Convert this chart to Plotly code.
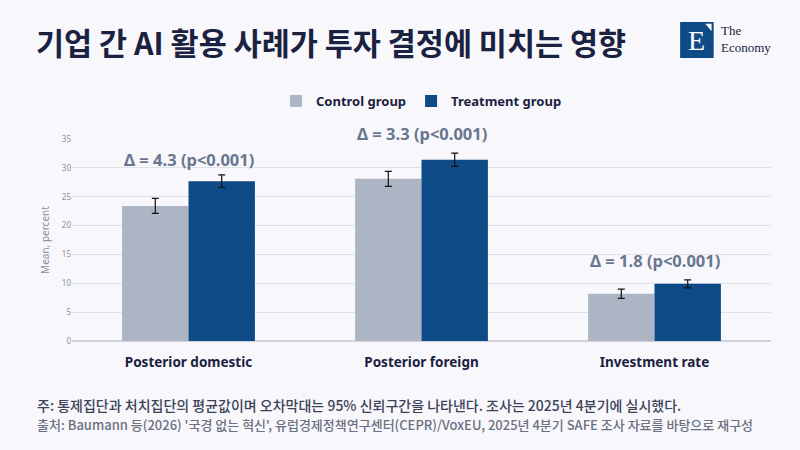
import plotly.graph_objects as go

# Data
categories = ["Posterior domestic", "Posterior foreign", "Investment rate"]
control = [23.4, 28.1, 8.2]
control_err = [1.3, 1.3, 0.8]
treatment = [27.7, 31.4, 9.9]
treatment_err = [1.1, 1.15, 0.7]
delta_labels = ["Δ = 4.3 (p<0.001)", "Δ = 3.3 (p<0.001)", "Δ = 1.8 (p<0.001)"]
delta_y = [31.4, 36.0, 14.0]   # label height in axis units
Y_MAX = 35

BG = "#f8f8fc"
NAVY = "#1b2140"
GREY_BAR = "#adb4c4"
BLUE_BAR = "#0e4a86"

fig = go.Figure()
fig.add_trace(go.Bar(
    name="<b>Control group</b>", x=categories, y=control,
    marker=dict(color=GREY_BAR, line=dict(width=0)),
    error_y=dict(type="data", array=control_err, color="#111111", thickness=1.2, width=3.5),
))
fig.add_trace(go.Bar(
    name="<b>Treatment group</b>", x=categories, y=treatment,
    marker=dict(color=BLUE_BAR, line=dict(width=0)),
    error_y=dict(type="data", array=treatment_err, color="#111111", thickness=1.2, width=3.5),
))

# Delta labels above each pair (paper y so the top one is not clipped)
for cat, txt, yv in zip(categories, delta_labels, delta_y):
    fig.add_annotation(x=cat, xref="x", y=yv / Y_MAX, yref="paper", text=f"<b>{txt}</b>",
                       showarrow=False, yanchor="middle",
                       font=dict(family="Noto Sans", size=16.5, color="#6a768e"))

# Title
fig.add_annotation(xref="paper", yref="paper", x=-0.055, y=1.48, xanchor="left", yanchor="middle",
                   text="<b>기업 간 AI 활용 사례가 투자 결정에 미치는 영향</b>", showarrow=False,
                   font=dict(family="Noto Sans CJK KR", size=30.5, color=NAVY))

# Logo
fig.add_shape(type="rect", xref="paper", yref="paper", x0=0.870, x1=0.918, y0=1.401, y1=1.579,
              fillcolor="#0e4a86", line=dict(width=0))
fig.add_shape(type="path", xref="paper", yref="paper",
              path="M 0.906 1.570 L 0.915 1.570 L 0.915 1.533 Z",
              fillcolor="white", line=dict(width=0))
fig.add_annotation(xref="paper", yref="paper", x=0.893, y=1.488, text="E", showarrow=False,
                   xanchor="center", yanchor="middle",
                   font=dict(family="Liberation Serif", size=28, color="white"))
fig.add_annotation(xref="paper", yref="paper", x=0.925, y=1.495, xanchor="left", yanchor="middle",
                   text="The<br>Economy", showarrow=False, align="left",
                   font=dict(family="Liberation Serif", size=13, color=NAVY))

# Footer notes
fig.add_annotation(xref="paper", yref="paper", x=-0.053, y=-0.317, xanchor="left", yanchor="middle",
                   text="주: 통제집단과 처치집단의 평균값이며 오차막대는 95% 신뢰구간을 나타낸다. 조사는 2025년 4분기에 실시했다.",
                   showarrow=False,
                   font=dict(family="Noto Sans CJK KR", size=14, color="#3c4257", weight=500))
fig.add_annotation(xref="paper", yref="paper", x=-0.053, y=-0.411, xanchor="left", yanchor="middle",
                   text="출처: Baumann 등(2026) '국경 없는 혁신', 유럽경제정책연구센터(CEPR)/VoxEU, 2025년 4분기 SAFE 조사 자료를 바탕으로 재구성",
                   showarrow=False,
                   font=dict(family="Noto Sans CJK KR", size=13, color="#6b7080", weight=500))

fig.update_layout(
    width=800, height=450,
    paper_bgcolor=BG, plot_bgcolor=BG,
    margin=dict(l=72, r=29, t=139, b=109),
    barmode="group", bargap=0.43, bargroupgap=0,
    showlegend=True,
    legend=dict(orientation="h", x=0.5, xanchor="center", y=1.188, yanchor="middle",
                font=dict(family="Noto Sans", size=13, color=NAVY), itemwidth=30,
                bgcolor="rgba(0,0,0,0)"),
    yaxis=dict(range=[0, Y_MAX], dtick=5, showgrid=True, gridcolor="#dfe1e8", gridwidth=1,
               zeroline=True, zerolinecolor="#d0d3dc", showline=False,
               tickfont=dict(family="Noto Sans", size=8, color="#8a90a0"),
               title=dict(text="Mean, percent", font=dict(family="Noto Sans", size=10, color="#8a90a0"),
                          standoff=10),
               ticks=""),
    xaxis=dict(showline=False, ticks="", ticklabelstandoff=11,
               tickfont=dict(family="Noto Sans", size=13.5, color=NAVY)),
)
fig.update_xaxes(ticktext=[f"<b>{c}</b>" for c in categories], tickvals=categories)

# drop the default page margin so the figure sits at the window's corner
fig.write_html("out.html", config={"displayModeBar": False},
               post_script="document.body.style.margin='0';")
